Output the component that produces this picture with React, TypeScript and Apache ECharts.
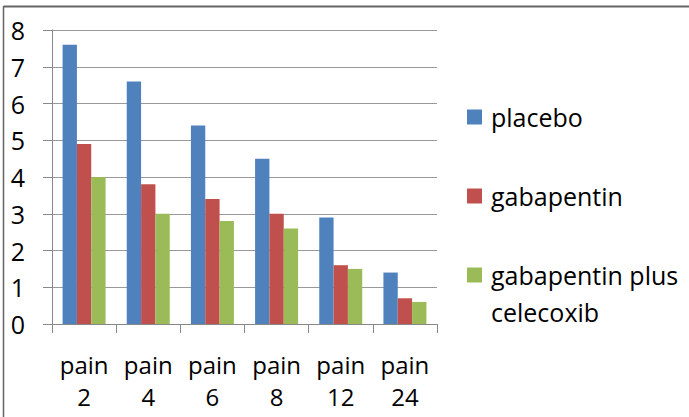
import React, { useEffect, useRef } from "react";
import * as echarts from "echarts";

const categories = ["pain\n2", "pain\n4", "pain\n6", "pain\n8", "pain\n12", "pain\n24"];
const placebo = [7.6, 6.6, 5.4, 4.5, 2.9, 1.4];
const gabapentin = [4.9, 3.8, 3.4, 3.0, 1.6, 0.7];
const gabapentinPlusCelecoxib = [4.0, 3.0, 2.8, 2.6, 1.5, 0.6];
const seriesNames = ["placebo", "gabapentin", "gabapentin plus celecoxib"];
const legendLines = [["placebo"], ["gabapentin"], ["gabapentin plus", "celecoxib"]];
const colors = ["#4F81BD", "#C0504D", "#9BBB59"];

const FONT = "'Open Sans', sans-serif";

export default function App() {
  const ref = useRef<HTMLDivElement>(null);
  useEffect(() => {
    if (!ref.current) return;
    const chart = echarts.init(ref.current, undefined, { renderer: "svg" });
    const data = [placebo, gabapentin, gabapentinPlusCelecoxib];
    const legendTops = [117, 196, 275];
    const legendGraphics: any[] = [];
    legendLines.forEach((lines, i) => {
      legendGraphics.push({
        type: "rect",
        shape: { x: 467, y: legendTops[i] - 7.5, width: 15, height: 15 },
        style: { fill: colors[i] },
      });
      legendGraphics.push({
        type: "text",
        x: 491,
        y: legendTops[i] - 19,
        style: {
          text: lines.join("\n"),
          font: `25px ${FONT}`,
          lineHeight: 37,
          fill: "#000",
          verticalAlign: "top",
          align: "left",
        },
      });
    });
    chart.setOption({
      animation: false,
      backgroundColor: "#fff",
      grid: { left: 52, right: 252, top: 30, bottom: 93 },
      xAxis: {
        type: "category",
        data: categories,
        axisLine: { lineStyle: { color: "#888", width: 1 } },
        axisTick: { show: true, length: 9, lineStyle: { color: "#888" } },
        axisLabel: {
          color: "#000",
          fontFamily: FONT,
          fontSize: 24,
          lineHeight: 32,
          margin: 24,
          interval: 0,
        },
      },
      yAxis: {
        type: "value",
        min: 0,
        max: 8,
        interval: 1,
        axisLine: { show: true, lineStyle: { color: "#888", width: 1 } },
        axisTick: { show: true, length: 9, lineStyle: { color: "#888" } },
        splitLine: { show: true, lineStyle: { color: "#999", width: 1 } },
        axisLabel: {
          color: "#000",
          fontFamily: FONT,
          fontSize: 25,
          margin: 27,
        },
      },
      series: seriesNames.map((name, i) => ({
        name,
        type: "bar",
        data: data[i],
        barGap: "0%",
        barCategoryGap: "33%",
        itemStyle: { color: colors[i] },
      })),
      graphic: [
        {
          type: "line",
          shape: { x1: 3.5, y1: 6.5, x2: 689, y2: 6.5 },
          style: { stroke: "#666", lineWidth: 2 },
        },
        {
          type: "line",
          shape: { x1: 3.5, y1: 6, x2: 3.5, y2: 417 },
          style: { stroke: "#666", lineWidth: 1.5 },
        },
        ...legendGraphics,
      ],
    });
    return () => chart.dispose();
  }, []);
  return (
    <div
      ref={ref}
      style={{ position: "absolute", left: 0, top: 0, width: 689, height: 417 }}
    />
  );
}
